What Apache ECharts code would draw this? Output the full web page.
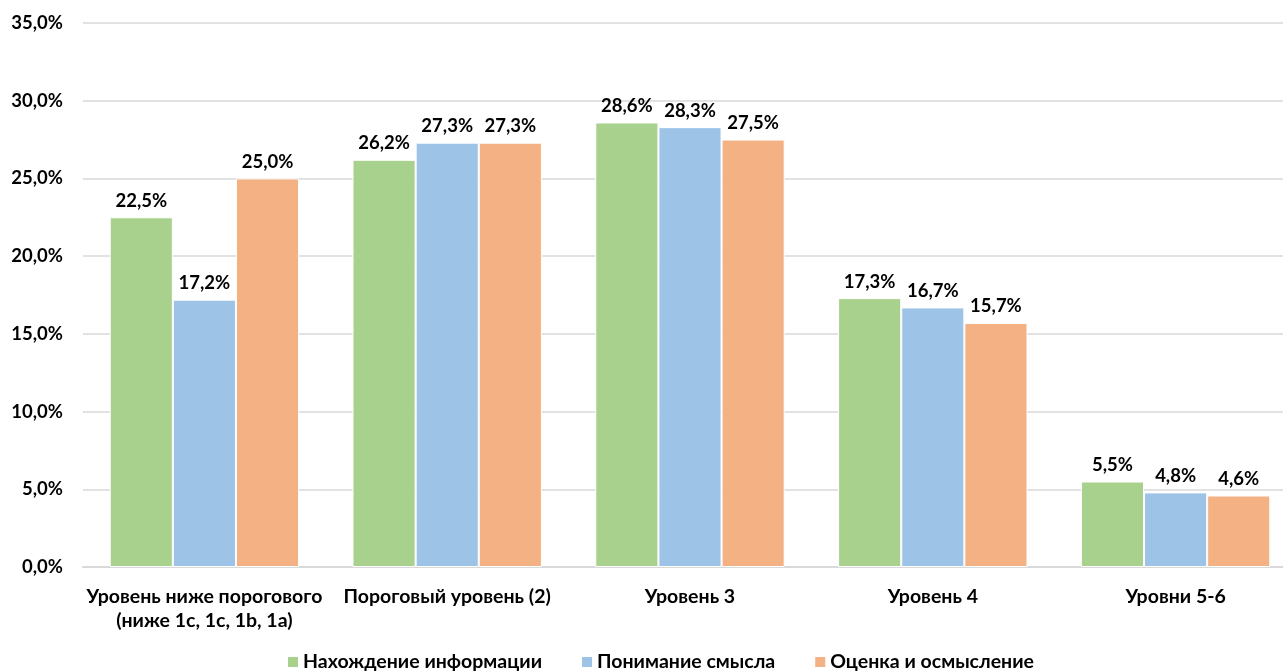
<!DOCTYPE html>
<html>
<head>
<meta charset="UTF-8">
<script src="https://cdn.jsdelivr.net/npm/echarts@6/dist/echarts.min.js"></script>
<style>
    html, body {margin: 0; padding: 0; background: #fff; overflow: hidden;}
    #chartDiv {width: 1310px; height: 671px;}
</style>
</head>
<body>
<div id="chartDiv"></div>
<script type="text/javascript">
    // категории и ряды
    var categories = ['Уровень ниже порогового\n(ниже 1с, 1с, 1b, 1a)', 'Пороговый уровень (2)', 'Уровень 3', 'Уровень 4', 'Уровни 5-6'];
    var seriesNames = ['Нахождение информации', 'Понимание смысла', 'Оценка и осмысление'];
    var findInfo = [22.5, 26.2, 28.6, 17.3, 5.5];
    var understand = [17.2, 27.3, 28.3, 16.7, 4.8];
    var evaluate = [25.0, 27.3, 27.5, 15.7, 4.6];
    var colors = ['#A9D18E', '#9DC3E6', '#F4B183'];

    var fmt = function (v) {
        return Number(v).toFixed(1).replace('.', ',') + '%';
    };

    var font = 'Lato, "Open Sans", sans-serif';

    var makeSeries = function (name, data, color) {
        return {
            name: name,
            type: 'bar',
            data: data,
            barGap: '0%',
            barCategoryGap: '22%',
            itemStyle: {color: color, borderColor: '#fff', borderWidth: 1},
            label: {
                show: true,
                position: 'top',
                distance: 7,
                formatter: function (p) { return fmt(p.value); },
                color: '#000',
                fontWeight: 'bold',
                fontSize: 18.5,
                fontFamily: font
            }
        };
    };

    var myChart = echarts.init(document.getElementById('chartDiv'));
    var option = {
        animation: false,
        color: colors,
        grid: {left: 83, width: 1214, top: 23, bottom: 104, containLabel: false},
        legend: {
            data: seriesNames,
            bottom: -6,
            left: 281,
            icon: 'rect',
            itemWidth: 12,
            itemHeight: 12,
            itemGap: 38,
            textStyle: {fontSize: 19.5, fontWeight: 'bold', fontFamily: font, color: '#000', padding: [0, 0, 0, -1]}
        },
        xAxis: {
            type: 'category',
            data: categories,
            axisTick: {show: false},
            axisLine: {lineStyle: {color: '#d9d9d9', width: 2}},
            axisLabel: {
                interval: 0,
                margin: 18,
                color: '#000',
                fontSize: 19.5,
                fontWeight: 'bold',
                fontFamily: font,
                lineHeight: 24
            }
        },
        yAxis: {
            type: 'value',
            min: 0,
            max: 35,
            interval: 5,
            axisLine: {show: false},
            axisTick: {show: false},
            splitLine: {lineStyle: {color: '#d9d9d9', width: 1.5}},
            axisLabel: {
                formatter: fmt,
                margin: 20,
                color: '#000',
                fontSize: 18.5,
                fontWeight: 'bold',
                fontFamily: font
            }
        },
        series: [
            makeSeries(seriesNames[0], findInfo, colors[0]),
            makeSeries(seriesNames[1], understand, colors[1]),
            makeSeries(seriesNames[2], evaluate, colors[2])
        ]
    };
    myChart.setOption(option);
</script>
</body>
</html>
